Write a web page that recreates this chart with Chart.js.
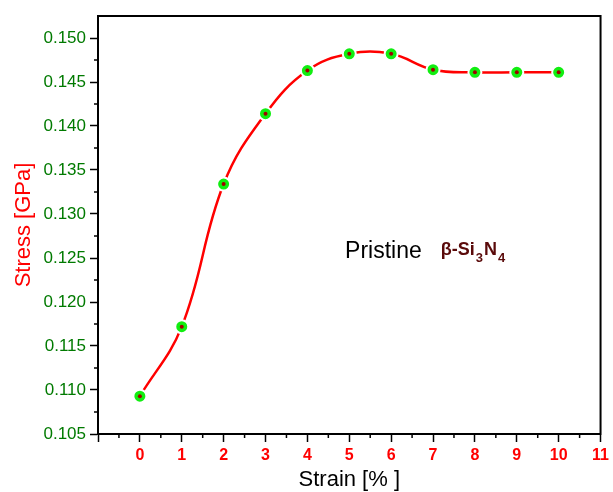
<!DOCTYPE html>
<html lang="en">

<head>
    <meta charset="UTF-8">
    <title>Stress vs Strain - Pristine beta-Si3N4</title>
    <script src="https://cdn.jsdelivr.net/npm/chart.js"></script>
    <style>
        html, body { margin: 0; padding: 0; background: #fff; }
        #wrap { width: 613px; height: 492px; }
    </style>
</head>

<body>
    <div id="wrap"><canvas id="myChart" width="613" height="492"></canvas></div>
    <script>
        // data
        const strain = [0, 1, 2, 3, 4, 5, 6, 7, 8, 9, 10];
        const stress = [0.1093, 0.1172, 0.1334, 0.1414, 0.1463, 0.1482, 0.1482, 0.1464, 0.1461, 0.1461, 0.1461];
        const xTicks = [0, 1, 2, 3, 4, 5, 6, 7, 8, 9, 10, 11];
        const yTicks = [0.105, 0.110, 0.115, 0.120, 0.125, 0.130, 0.135, 0.140, 0.145, 0.150];
        const note = { x: 4.9, y: 0.1250 };

        const FONT = "Arial, 'Liberation Sans', sans-serif";
        const pts = strain.map((x, i) => ({ x: x, y: stress[i] }));

        const isMajorX = v => xTicks.includes(Math.round(v * 2) / 2) || Math.abs(v + 1) < 1e-6;
        const isMajorY = v => yTicks.some(t => Math.abs(t - v) < 1e-7);

        // frame, minor ticks and the text label
        const extras = {
            id: 'extras',
            afterDraw(chart) {
                const ctx = chart.ctx;
                const a = chart.chartArea;
                const xs = chart.scales.x, ys = chart.scales.y;
                ctx.save();
                ctx.strokeStyle = '#000';
                ctx.lineWidth = 2;
                ctx.strokeRect(a.left, a.top, a.right - a.left, a.bottom - a.top);

                ctx.lineWidth = 1.5;
                ctx.beginPath();
                for (let v = -0.5; v < 11; v += 1) {
                    const px = xs.getPixelForValue(v);
                    ctx.moveTo(px, a.bottom);
                    ctx.lineTo(px, a.bottom + 4);
                }
                for (let i = 0; i < yTicks.length - 1; i++) {
                    const py = ys.getPixelForValue((yTicks[i] + yTicks[i + 1]) / 2);
                    ctx.moveTo(a.left, py);
                    ctx.lineTo(a.left - 4, py);
                }
                ctx.stroke();

                let px = xs.getPixelForValue(note.x);
                const py = ys.getPixelForValue(note.y);
                ctx.textBaseline = 'alphabetic';
                ctx.textAlign = 'left';
                ctx.fillStyle = '#000';
                ctx.font = '23px ' + FONT;
                ctx.fillText('Pristine', px, py);
                px += ctx.measureText('Pristine').width + 19;

                ctx.fillStyle = '#5a0a0a';
                const parts = [['β-Si', 0], ['3', 1], ['N', 0], ['4', 1]];
                parts.forEach(p => {
                    ctx.font = 'bold ' + (p[1] ? 13 : 18) + 'px ' + FONT;
                    ctx.fillText(p[0], px, py - 3 + p[1] * 7);
                    px += ctx.measureText(p[0]).width + 1;
                });
                ctx.restore();
            }
        };

        new Chart(document.getElementById('myChart'), {
            type: 'line',
            data: {
                datasets: [{
                    // dark centres of the markers
                    data: pts,
                    showLine: false,
                    pointRadius: 2,
                    pointBackgroundColor: '#a00000',
                    pointBorderWidth: 0
                }, {
                    data: pts,
                    borderColor: '#ff0000',
                    borderWidth: 2.5,
                    tension: 0.4,
                    fill: false,
                    pointRadius: 6.5,
                    pointBackgroundColor: '#11ee11',
                    pointBorderColor: '#ffffff',
                    pointBorderWidth: 2
                }]
            },
            options: {
                responsive: false,
                animation: false,
                layout: { padding: { top: 16, right: 10, left: 0, bottom: 0 } },
                plugins: { legend: { display: false }, tooltip: { enabled: false } },
                scales: {
                    x: {
                        type: 'linear',
                        min: -1,
                        max: 11,
                        afterFit: s => { s.height = 58; },
                        border: { color: '#000', width: 2 },
                        grid: {
                            drawOnChartArea: false,
                            tickLength: 8,
                            tickWidth: 1.5,
                            tickColor: c => isMajorX(c.tick.value) ? '#000' : 'rgba(0,0,0,0)'
                        },
                        ticks: {
                            stepSize: 1,
                            autoSkip: false,
                            maxRotation: 0,
                            padding: 4,
                            color: '#ff0000',
                            font: { family: FONT, size: 16, weight: 'bold' },
                            callback: v => xTicks.includes(v) ? String(v) : ''
                        },
                        title: {
                            display: true,
                            text: 'Strain [% ]',
                            color: '#000',
                            font: { family: FONT, size: 22 },
                            padding: { top: 0, bottom: -1 }
                        }
                    },
                    y: {
                        min: 0.105,
                        max: 0.1525,
                        afterFit: s => { s.width = 98; },
                        border: { color: '#000', width: 2 },
                        grid: {
                            drawOnChartArea: false,
                            tickLength: 8,
                            tickWidth: 1.5,
                            tickColor: c => isMajorY(c.tick.value) ? '#000' : 'rgba(0,0,0,0)'
                        },
                        ticks: {
                            stepSize: 0.005,
                            autoSkip: false,
                            padding: 4,
                            color: '#007a00',
                            font: { family: FONT, size: 17 },
                            callback: v => isMajorY(v) ? v.toFixed(3) : ''
                        },
                        title: {
                            display: true,
                            text: 'Stress [GPa]',
                            color: '#ff0000',
                            font: { family: FONT, size: 22 },
                            padding: { top: 11, bottom: 0 }
                        }
                    }
                }
            },
            plugins: [extras]
        });
    </script>
</body>

</html>
